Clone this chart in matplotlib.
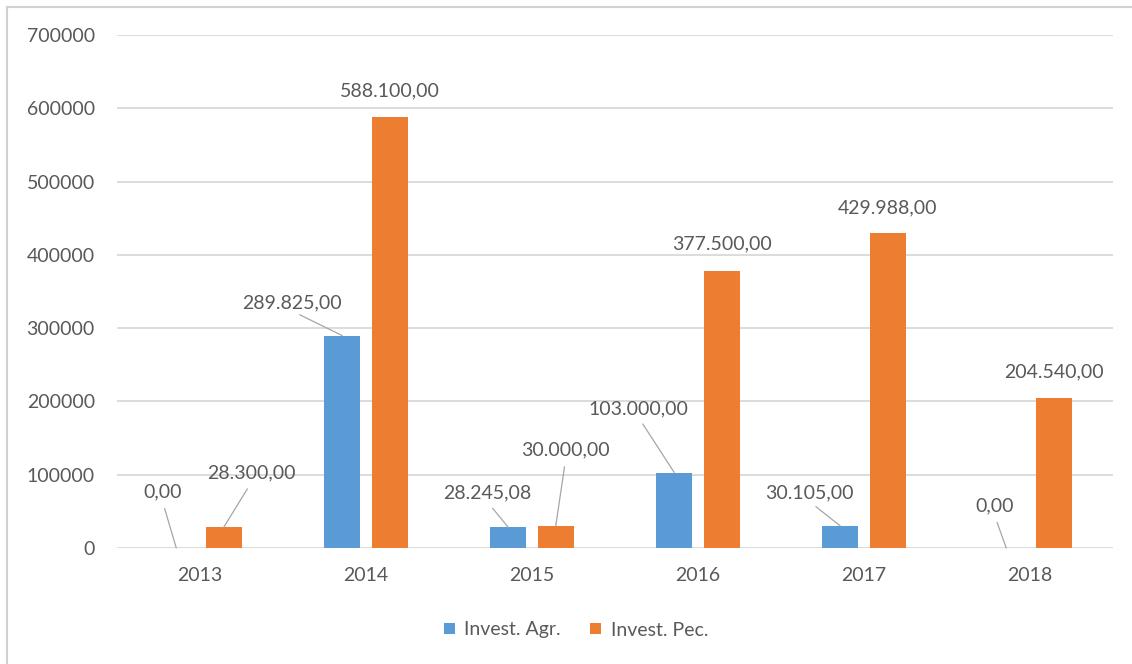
import numpy as np
import matplotlib.pyplot as plt
from matplotlib.lines import Line2D

# Data
years = ["2013", "2014", "2015", "2016", "2017", "2018"]
invest_agr = [0.00, 289825.00, 28245.08, 103000.00, 30105.00, 0.00]
invest_pec = [28300.00, 588100.00, 30000.00, 377500.00, 429988.00, 204540.00]
series_names = ["Invest. Agr.", "Invest. Pec."]

# Label placement (pixel offsets from the top of each bar, leader line on/off)
agr_offsets = [(-14, 56), (-50, 33), (-21, 34), (-36, 64), (-31, 33), (-12, 42)]
agr_leader = [True, True, True, True, True, True]
pec_offsets = [(28, 54), (0, 26), (10, 76), (0, 27), (0, 25), (0, 26)]
pec_leader = [True, False, True, False, False, False]

BLUE = "#5B9BD5"
ORANGE = "#ED7D31"
TEXT = "#595959"
GRID = "#d9d9d9"

plt.rcParams["font.family"] = ["Lato", "DejaVu Sans"]
plt.rcParams["font.size"] = 14


def fmt_br(v):
    s = f"{v:,.2f}"
    return s.replace(",", "X").replace(".", ",").replace("X", ".")


W, H = 1132, 664
fig = plt.figure(figsize=(W / 100, H / 100), dpi=100)
ax = fig.add_axes([117 / W, 1 - 548 / H, (1113 - 117) / W, (548 - 35) / H])

x = np.arange(len(years))
bw = 0.217
off = 0.143
bars_agr = ax.bar(x - off, invest_agr, bw, color=BLUE, label=series_names[0], zorder=3)
bars_pec = ax.bar(x + off, invest_pec, bw, color=ORANGE, label=series_names[1], zorder=3)

ax.set_xlim(-0.5, len(years) - 0.5)
ax.set_ylim(0, 700000)
ax.set_yticks(range(0, 700001, 100000))
ax.set_yticklabels([str(v) for v in range(0, 700001, 100000)])
ax.set_xticks(x)
ax.set_xticklabels(years)
ax.yaxis.grid(True, color=GRID, lw=1.3, zorder=0)
ax.set_axisbelow(True)
for sp in ax.spines.values():
    sp.set_visible(False)
ax.tick_params(axis="both", length=0, colors=TEXT, labelsize=14)
ax.tick_params(axis="y", pad=16)
ax.tick_params(axis="x", pad=14)


def add_labels(xs, vals, offsets, leaders):
    for xi, v, (dx, dy), lead in zip(xs, vals, offsets, leaders):
        arrow = None
        if lead:
            arrow = dict(arrowstyle="-", color="#a6a6a6", lw=0.9,
                         relpos=(0.5, 0.0), patchA=None, shrinkA=6, shrinkB=0)
        ax.annotate(fmt_br(v), xy=(xi, v), xytext=(dx, dy),
                    textcoords="offset pixels", ha="center", va="center",
                    color=TEXT, fontsize=14, arrowprops=arrow, zorder=4,
                    annotation_clip=False)


add_labels(x - off, invest_agr, agr_offsets, agr_leader)
add_labels(x + off, invest_pec, pec_offsets, pec_leader)

fig.legend(handles=[bars_agr, bars_pec], labels=series_names,
           loc="center", bbox_to_anchor=(576 / W, 1 - 630 / H), ncol=2,
           frameon=False, handlelength=0.55, handleheight=0.55,
           handletextpad=0.5, columnspacing=1.5, labelcolor=TEXT, fontsize=14)

# chart frame
fig.add_artist(Line2D([7 / W, 7 / W], [0, 1 - 7 / H], transform=fig.transFigure,
                      color="#d0d0d0", lw=1.5))
fig.add_artist(Line2D([7 / W, 1], [1 - 7 / H, 1 - 7 / H], transform=fig.transFigure,
                      color="#d0d0d0", lw=1.5))

fig.savefig("out.png", dpi=100, facecolor="white")
